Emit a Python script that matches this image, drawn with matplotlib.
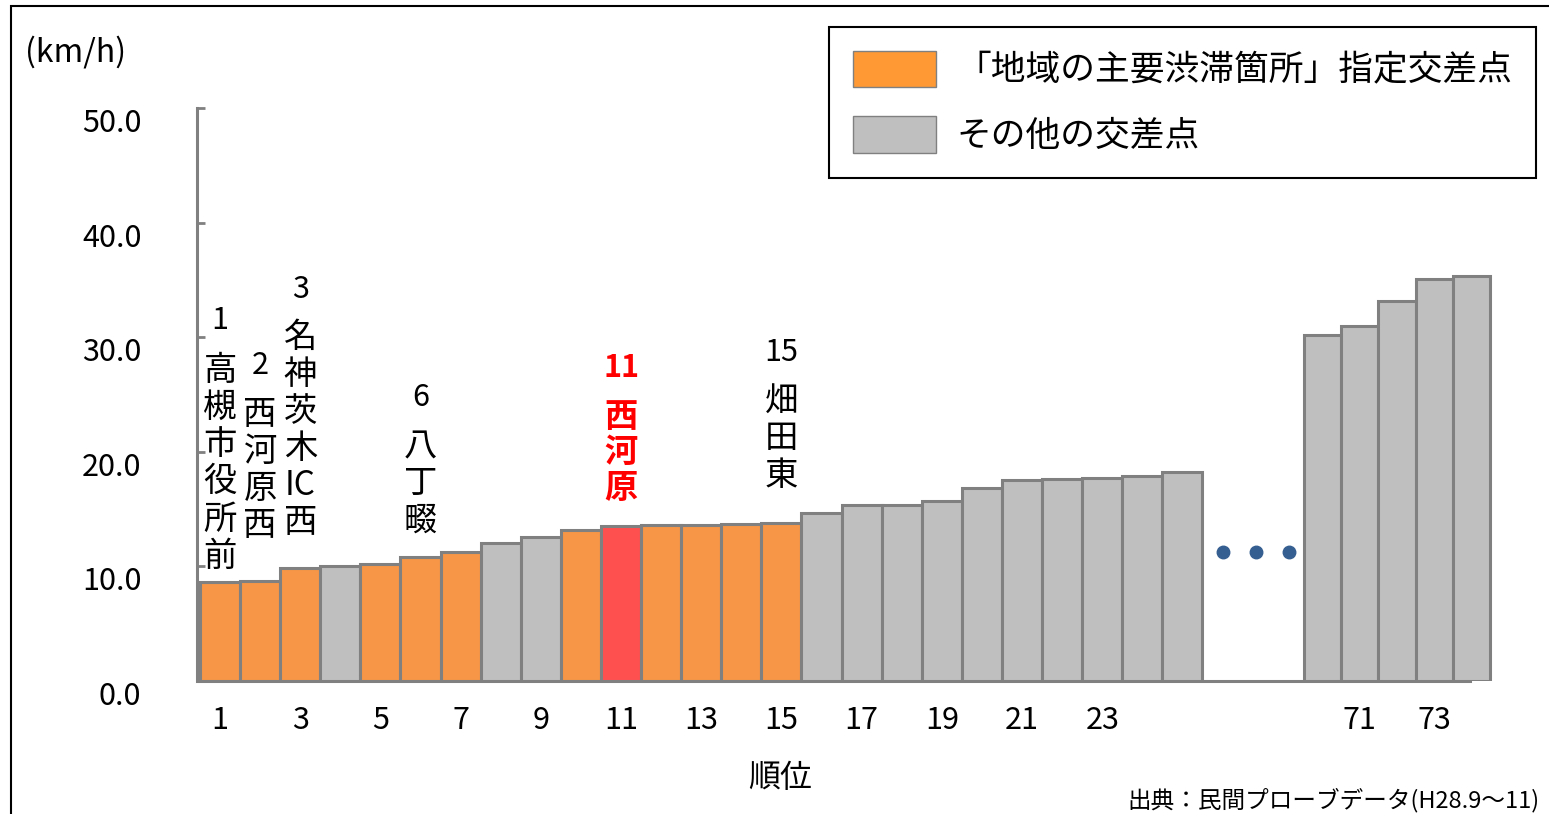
import matplotlib
matplotlib.use('Agg')
import numpy as np
import matplotlib.pyplot as plt
from matplotlib.patches import Patch, Rectangle

plt.rcParams['font.family'] = ['Noto Sans CJK JP', 'DejaVu Sans']

# データ（順位と平均速度 km/h）
ranks_left = list(range(1, 26))
speeds_left = [8.6, 8.7, 9.9, 10.0, 10.2, 10.8, 11.3, 12.0, 12.6, 13.2, 13.5,
               13.6, 13.6, 13.7, 13.8, 14.7, 15.4, 15.4, 15.7, 16.8, 17.5,
               17.6, 17.7, 17.9, 18.2]
kinds_left = ['main', 'main', 'main', 'other', 'main', 'main', 'main', 'other',
              'other', 'main', 'target', 'main', 'main', 'main', 'main'] + ['other'] * 10
ranks_right = [70, 71, 72, 73, 74]
speeds_right = [30.2, 31.0, 33.2, 35.1, 35.3]
kinds_right = ['other'] * 5

tick_ranks = [1, 3, 5, 7, 9, 11, 13, 15, 17, 19, 21, 23, 71, 73]
yticks = [0, 10, 20, 30, 40, 50]

label_ranks = [1, 2, 3, 6, 11, 15]
label_names = [['高', '槻', '市', '役', '所', '前'],
               ['西', '河', '原', '西'],
               ['名', '神', '茨', '木', 'IC', '西'],
               ['八', '丁', '畷'],
               ['西', '河', '原'],
               ['畑', '田', '東']]
label_num_y = [31.5, 27.5, 34.2, 24.7, 27.3, 28.7]
label_name_y = [19.0, 18.4, 21.9, 17.2, 19.9, 21.2]

legend_labels = ['「地域の主要渋滞箇所」指定交差点', 'その他の交差点']

colors = {'main': '#F79646', 'other': '#BFBFBF', 'target': '#FF5050'}
legend_colors = ['#FF9933', '#BFBFBF']
edge = '#808080'

W, H = 1549, 814
fig = plt.figure(figsize=(W / 100, H / 100), dpi=100)
ax = fig.add_axes([197 / W, 1 - 681 / H, (1500 - 197) / W, (681 - 108) / H])

# 位置
x_left = np.arange(len(ranks_left))
x_right = 27.49 + 0.93 * np.arange(len(ranks_right))
pos = dict(zip(ranks_left, x_left))
pos.update(zip(ranks_right, x_right))

ax.bar(x_left, speeds_left, width=1.0, color=[colors[k] for k in kinds_left],
       edgecolor=edge, linewidth=2.2, zorder=3)
ax.bar(x_right, speeds_right, width=0.93, color=[colors[k] for k in kinds_right],
       edgecolor=edge, linewidth=2.2, zorder=3)

# 省略の点
dots_x = np.linspace(x_left[-1] + 1.0, x_right[0] - 0.84, 3)
ax.plot(dots_x, [11.3] * 3, 'o', color='#365F91', ms=9, zorder=4)

ax.set_xlim(-0.575, 31.92)
ax.set_ylim(0, 50)
ax.set_xticks([pos[r] for r in tick_ranks])
ax.set_xticklabels([str(r) for r in tick_ranks])
ax.set_yticks(yticks)
ax.set_yticklabels([f'{v:.1f}' for v in yticks])
ax.tick_params(axis='x', length=0, pad=17, labelsize=22)
ax.tick_params(axis='y', direction='in', length=6, width=2, color=edge,
               pad=40, labelsize=22)
for lbl in ax.get_yticklabels():
    lbl.set_va('top')

for s in ['top', 'right']:
    ax.spines[s].set_visible(False)
ax.spines['left'].set_color(edge)
ax.spines['left'].set_linewidth(2.2)
ax.spines['bottom'].set_color(edge)
ax.spines['bottom'].set_linewidth(2.2)
ax.spines['bottom'].set_bounds(-0.5, 31.18)

# 交差点名（縦書き）
for r, name, ny, cy in zip(label_ranks, label_names, label_num_y, label_name_y):
    c = 'red' if r == 11 else 'black'
    fw = 'bold' if r == 11 else 'normal'
    ax.text(pos[r], ny, str(r), ha='center', va='center', fontsize=22,
            color=c, fontweight=fw)
    ax.text(pos[r], cy, '\n'.join(name), ha='center', va='center', fontsize=24,
            color=c, fontweight=fw, linespacing=1.08)

handles = [Patch(facecolor=c, edgecolor=edge, linewidth=1) for c in legend_colors]
leg = ax.legend(handles, legend_labels, loc='upper left',
                bbox_to_anchor=(829 / W, 1 - 27 / H), bbox_transform=fig.transFigure,
                borderaxespad=0, fontsize=25, handlelength=2.4, handleheight=1.25,
                handletextpad=0.6, borderpad=0.68, labelspacing=0.8,
                fancybox=False, framealpha=1, edgecolor='black')
leg.get_frame().set_linewidth(1.5)

fig.text(25 / W, 1 - 52 / H, '(km/h)', fontsize=23, va='center', ha='left')
fig.text(780 / W, 1 - 778 / H, '順位', fontsize=23, va='center', ha='center')
fig.text(1127 / W, 1 - 800 / H, '出典：民間プローブデータ(H28.9～11)', fontsize=17,
         va='center', ha='left')

fig.add_artist(Rectangle((11 / W, -0.1), 2, 1 - 6 / H + 0.1, transform=fig.transFigure,
                         fill=False, edgecolor='black', linewidth=1.5, clip_on=False))

fig.savefig('out.png', dpi=100)
